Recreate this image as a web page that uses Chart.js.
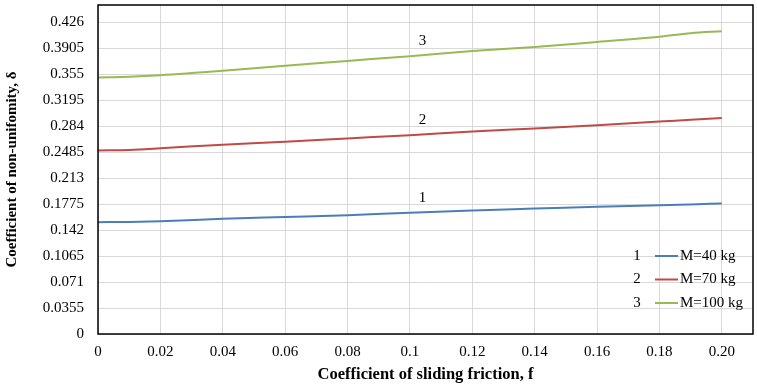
<!DOCTYPE html>
<html>
<head>
<meta charset="utf-8">
<script src="https://cdn.jsdelivr.net/npm/chart.js@4/dist/chart.umd.min.js"></script>
<style>
  html, body { margin: 0; padding: 0; background: #fff; }
  #wrap { width: 757px; height: 385px; position: relative; }
</style>
</head>
<body>
<div id="wrap"><canvas id="frictionChart"></canvas></div>
<script>
// data
const friction = [0, 0.01, 0.02, 0.04, 0.06, 0.08, 0.10, 0.12, 0.14, 0.16, 0.18, 0.19, 0.20];
const delta40  = [0.153, 0.1533, 0.1543, 0.1575, 0.160, 0.1625, 0.166, 0.169, 0.1715, 0.174, 0.176, 0.1772, 0.1785];
const delta70  = [0.251, 0.2518, 0.254, 0.259, 0.263, 0.2675, 0.272, 0.277, 0.281, 0.2855, 0.2905, 0.293, 0.2955];
const delta100 = [0.351, 0.352, 0.354, 0.360, 0.367, 0.3735, 0.380, 0.387, 0.3925, 0.3995, 0.4065, 0.4115, 0.414];

const seriesNames = ['M=40 kg', 'M=70 kg', 'M=100 kg'];
const seriesNumbers = ['1', '2', '3'];
const seriesColors = ['#4a7ebb', '#be4b48', '#98b954'];

const xTicks = [0, 0.02, 0.04, 0.06, 0.08, 0.10, 0.12, 0.14, 0.16, 0.18, 0.20];
const xTickLabels = ['0', '0.02', '0.04', '0.06', '0.08', '0.1', '0.12', '0.14', '0.16', '0.18', '0.20'];
const yTicks = [0, 0.0355, 0.071, 0.1065, 0.142, 0.1775, 0.213, 0.2485, 0.284, 0.3195, 0.355, 0.3905, 0.426];
const yTickLabels = ['0', '0.0355', '0.071', '0.1065', '0.142', '0.1775', '0.213', '0.2485', '0.284', '0.3195', '0.355', '0.3905', '0.426'];

const curveLabelX = 0.104;
const FONT = "'Liberation Serif', 'Times New Roman', serif";

const toPoints = (ys) => friction.map((f, i) => ({ x: f, y: ys[i] }));
const allSeries = [delta40, delta70, delta100];

// curve numbers 1/2/3 and the legend inside the plot area
const annotatePlugin = {
    id: 'annotate',
    afterDatasetsDraw(chart) {
        const ctx = chart.ctx;
        const xs = chart.scales.x, ys = chart.scales.y;
        const area = chart.chartArea;
        ctx.save();
        ctx.font = '15px ' + FONT;
        ctx.fillStyle = '#000';
        ctx.textBaseline = 'middle';

        // curve numbers, placed above each line
        chart.data.datasets.forEach((ds, i) => {
            const px = xs.getPixelForValue(curveLabelX);
            let yVal = ds.data[0].y;
            for (let k = 1; k < ds.data.length; k++) {
                const a = ds.data[k - 1], b = ds.data[k];
                if (curveLabelX >= a.x && curveLabelX <= b.x) {
                    yVal = a.y + (b.y - a.y) * (curveLabelX - a.x) / (b.x - a.x);
                }
            }
            ctx.textAlign = 'center';
            ctx.fillText(seriesNumbers[i], px, ys.getPixelForValue(yVal) - 14);
        });

        // legend, bottom right
        const rowH = 23.5;
        chart.data.datasets.forEach((ds, i) => {
            const y = area.bottom - 31 - (chart.data.datasets.length - 1 - i) * rowH;
            const lineEnd = area.right - 75;
            ctx.textAlign = 'center';
            ctx.fillText(seriesNumbers[i], lineEnd - 41, y);
            ctx.strokeStyle = ds.borderColor;
            ctx.lineWidth = 2;
            ctx.beginPath();
            ctx.moveTo(lineEnd - 23, y);
            ctx.lineTo(lineEnd, y);
            ctx.stroke();
            ctx.textAlign = 'left';
            ctx.fillText(ds.label, lineEnd + 2, y);
        });
        ctx.restore();
    }
};

// black frame round the plot area
const framePlugin = {
    id: 'frame',
    afterDraw(chart) {
        const a = chart.chartArea;
        const ctx = chart.ctx;
        ctx.save();
        ctx.strokeStyle = '#000';
        ctx.lineWidth = 1.5;
        ctx.strokeRect(a.left, a.top, a.right - a.left, a.bottom - a.top);
        ctx.restore();
    }
};

new Chart(document.getElementById('frictionChart'), {
    type: 'line',
    data: {
        datasets: allSeries.map((ys, i) => ({
            label: seriesNames[i],
            data: toPoints(ys),
            borderColor: seriesColors[i],
            backgroundColor: seriesColors[i],
            borderWidth: 2,
            pointRadius: 0,
            cubicInterpolationMode: 'monotone',
            fill: false
        }))
    },
    options: {
        responsive: true,
        maintainAspectRatio: false,
        animation: false,
        layout: { padding: { top: 5, right: 4, left: 0, bottom: 0 } },
        plugins: {
            legend: { display: false },
            tooltip: { enabled: false }
        },
        scales: {
            x: {
                type: 'linear',
                min: 0,
                max: 0.21,
                afterBuildTicks: (scale) => { scale.ticks = xTicks.map(v => ({ value: v })); },
                afterFit: (scale) => {
                    scale.height = 51;
                    scale.paddingLeft = 0; scale.paddingRight = 0;
                },
                ticks: {
                    color: '#000',
                    font: { family: FONT, size: 15 },
                    padding: 9,
                    maxRotation: 0,
                    autoSkip: false,
                    callback: (v, i) => xTickLabels[i]
                },
                grid: { color: '#d9d9d9', lineWidth: 1, drawTicks: false },
                border: { display: false },
                title: {
                    display: true,
                    text: 'Coefficient of sliding friction, f',
                    color: '#000',
                    font: { family: FONT, size: 16.5, weight: 'bold' },
                    padding: { top: 3, bottom: 0 }
                }
            },
            y: {
                type: 'linear',
                min: 0,
                max: 0.45,
                afterBuildTicks: (scale) => { scale.ticks = yTicks.map(v => ({ value: v })); },
                afterFit: (scale) => {
                    scale.width = 98;
                    scale.paddingTop = 0; scale.paddingBottom = 0;
                },
                ticks: {
                    color: '#000',
                    font: { family: FONT, size: 15 },
                    padding: 14,
                    autoSkip: false,
                    callback: (v, i) => yTickLabels[i]
                },
                grid: { color: '#d9d9d9', lineWidth: 1, drawTicks: false },
                border: { display: false },
                title: {
                    display: true,
                    text: 'Coefficient of non-unifomity, δ',
                    color: '#000',
                    font: { family: FONT, size: 15, weight: 'bold' },
                    padding: { top: 3, bottom: 0 }
                }
            }
        }
    },
    plugins: [annotatePlugin, framePlugin]
});
</script>
</body>
</html>
